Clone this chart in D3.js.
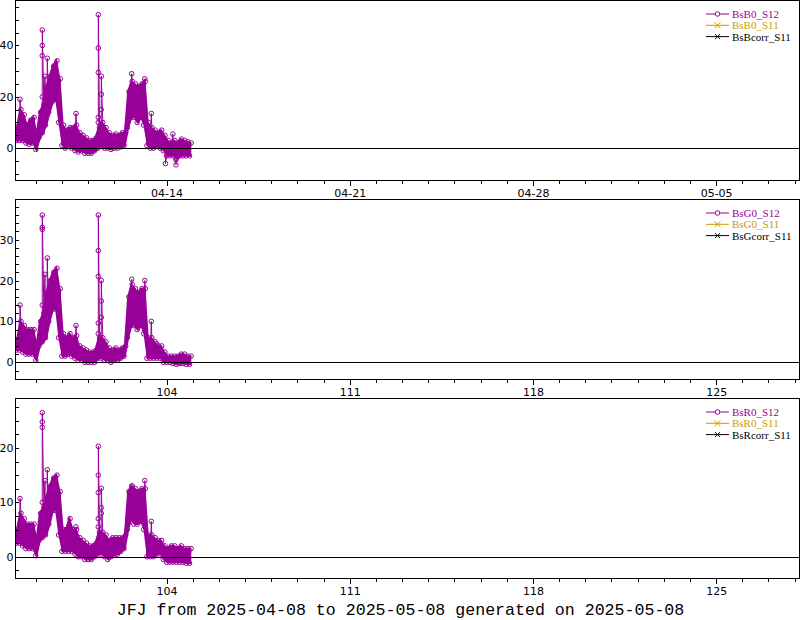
<!DOCTYPE html>
<html><head><meta charset="utf-8">
<script src="https://cdn.jsdelivr.net/npm/d3@7"></script>
<style>
body{margin:0;background:#fff;}
svg{display:block;}
.tick text{font-family:"DejaVu Sans",Verdana,sans-serif;font-size:11px;fill:#000;}
</style></head>
<body><svg id="c" width="800" height="620"></svg>
<script>
// ---- data (hours since 2025-04-08 00:00 UTC) ----
const sampleHours = [6,9,12,15,18,21,24,27,30,33,36,39,42,45,48,51,54,57,60,63,66,69,72,75,78,81,84,87,90,93,96,99,102,105,108,111,114,117,120,123,126,129,132,135,138,141,144,147,150,153,156,159,162,165];

// BsB0_S12 band (low / high envelope)
const b0Low  = [3,3,3,2,1.5,2,-0.5,4,6,9,14,18,19,10,1,0,1,0,-1,-1.5,-1,-2,-2,-2,-1,0,1,0,0,-0.5,0,0,0.5,1,8,12,12,10,12,9,1,0,0,1,0,-1,-3,-3,-3,-4,-3,-3,-3,-3];
const b0High = [8,15,13,9,11,12,5,14,17,24,28,32,34,27,9,7,8,8,9,6,5,4,3,3,4,8,10,8,6,5,5.5,5,6,6,22,26,25,24,25,26,10,8,7,6,7,5,3,2,3,2,3.5,3,2.5,2];
const b0SpikeHours = [9.6,30.0,32.5,34.6,60.9,81.4,84.1,112,124,130,143,149.8,152.6];
const b0SpikeVals  = [[19],[20,36,40,46],[28],[35],[13.5],[10,12,29.5,39,52],[15,21,28],[29],[27],[13.5],[-6],[5.5],[-4.5,-6.5]];

// BsG0_S12
const g0Low  = [3,3,2.5,2,2,2,0.5,4,5,6,10,13,13,6,1.5,1.5,2,1.5,1,0.5,0.5,0,0,0,0,1,1,0.5,0.5,0,0.5,0.5,1,1.5,6,9,9,8,9,7,1,1,1,1,1,0,0,0,-0.3,-0.5,-0.3,-0.3,-0.5,-0.5];
const g0High = [5.5,10,9,8,8,8,4,10,12,17,20,22,23,18,7,6,7,6,6.5,4,3.5,3,2.5,2.5,3,6,6,5,3.5,3,3.5,3,3.5,4,16,19,18,17,18,18,6,6,5,4,4,2.5,1.5,1.5,1.5,1.5,2,2,1.5,1.5];
const g0SpikeHours = [9.6,30.0,32.5,34.6,60.9,81.4,84.1,112,124,130,135];
const g0SpikeVals  = [[14],[14,32.5,33,36],[21.5],[25.5],[9],[7,9.6,21,27.3,36],[11,15,20],[20.3],[20],[10],[4.5]];

// BsR0_S12
const r0Low  = [2.5,2.5,2,1.5,1.5,1.5,0.2,3,3.5,4,6,8.5,8.5,4,1,1,1,1,0.5,0,0,-0.5,-0.5,-0.5,0,0.5,0.5,0,-0.5,0,0.3,0.5,1,1.5,5,7,6,6,6.5,5,0,0,0,0.5,0.5,-0.5,-1,-1,-1,-1,-1,-1,-1.2,-1.2];
const r0High = [5,8,7,6,6,6,3,8,9,11,13,14.5,15,12,5,5,7,5,5,3.5,3,2.5,2,2,2.5,4.5,4.5,4,3,3.5,3.5,3.5,3.5,4,12,13,12.5,12,12.5,12.5,4,4,3.5,3,3,2,1.5,2,2,1.5,2,1.5,1.5,1.5];
const r0SpikeHours = [9.6,30.0,32.5,34.6,60.9,81.4,84.1,112,124,130];
const r0SpikeVals  = [[10.7],[10,23.8,24.8,26.5],[14],[16],[5.5],[5.5,7,11.8,15,20.3],[8,9,12.6],[13],[14],[6.5]];

// S11 and corrected series: no visible data in the reference
const s11Vals = [];
const corrVals = [];

const xTickLabelsDate = ["04-14","04-21","04-28","05-05"];
const xTickLabelsDoy  = ["104","111","118","125"];
const majorTickDays = ["2025-04-14","2025-04-21","2025-04-28","2025-05-05"];
const yLabelsB = [0,20,40];
const yLabelsG = [0,10,20,30];
const yLabelsR = [0,10,20];
const legendB = ["BsB0_S12","BsB0_S11","BsBcorr_S11"];
const legendG = ["BsG0_S12","BsG0_S11","BsGcorr_S11"];
const legendR = ["BsR0_S12","BsR0_S11","BsRcorr_S11"];
const titleText = "JFJ from 2025-04-08 to 2025-05-08 generated on 2025-05-08";

// ---- layout ----
const PURPLE = "#990099", GOLD = "#cc9900", BLACK = "#000";
const svg = d3.select("#c");
const X0 = 15.5, X1 = 799.5;
const t0 = new Date(Date.UTC(2025,3,8,0));
const hToDate = h => new Date(t0.getTime() + h*3600e3);
const x = d3.scaleUtc().domain([new Date(Date.UTC(2025,3,8,5)), new Date(Date.UTC(2025,4,8,4))]).range([15, 799]);

const panels = [
  {top:0.5, bot:180.5, ydom:[-12.6,57.5], ystep:5, ylab:yLabelsB, lo:b0Low, hi:b0High, sh:b0SpikeHours, sv:b0SpikeVals, xl:xTickLabelsDate, leg:legendB},
  {top:199.5, bot:379.5, ydom:[-4.2,39.8], ystep:2, ylab:yLabelsG, lo:g0Low, hi:g0High, sh:g0SpikeHours, sv:g0SpikeVals, xl:xTickLabelsDoy, leg:legendG},
  {top:398.5, bot:578.5, ydom:[-4.0,29.1], ystep:2.5, ylab:yLabelsR, lo:r0Low, hi:r0High, sh:r0SpikeHours, sv:r0SpikeVals, xl:xTickLabelsDoy, leg:legendR}
];

const minorDays = d3.utcDay.range(new Date(Date.UTC(2025,3,9)), new Date(Date.UTC(2025,4,9)));
const majorDates = majorTickDays.map(s => new Date(s + "T00:00:00Z"));

panels.forEach((p, pi) => {
  const g = svg.append("g");
  const y = d3.scaleLinear().domain(p.ydom).range([p.bot, p.top]);
  const clipId = "clip" + pi;
  svg.append("clipPath").attr("id", clipId).append("rect")
    .attr("x", X0).attr("y", p.top).attr("width", X1 - X0).attr("height", p.bot - p.top);

  // build series
  const pts = [];
  sampleHours.forEach((h, i) => {
    pts.push({h: h, v: p.lo[i]});
    pts.push({h: h + 1.5, v: p.hi[i]});
  });
  p.sh.forEach((h, k) => p.sv[k].forEach((v, j) => pts.push({h: h + j*0.01, v: v})));
  pts.sort((a, b) => a.h - b.h);

  const dg = g.append("g").attr("clip-path", `url(#${clipId})`);
  // dense band of the 1-minute data: envelope area
  const band = sampleHours.map((h, i) => ({h: h + 0.75, lo: p.lo[i], hi: p.hi[i]}));
  const area = d3.area().x(d => x(hToDate(d.h))).y0(d => y(d.lo)).y1(d => y(d.hi));
  dg.append("path").datum(band).attr("d", area)
    .attr("fill", PURPLE).attr("stroke", PURPLE).attr("stroke-width", 2);
  const line = d3.line().x(d => x(hToDate(d.h))).y(d => y(d.v));
  dg.append("path").datum(pts).attr("d", line)
    .attr("fill", "none").attr("stroke", PURPLE).attr("stroke-width", 1);
  dg.selectAll("circle").data(pts).join("circle")
    .attr("cx", d => x(hToDate(d.h))).attr("cy", d => y(d.v)).attr("r", 2.3)
    .attr("fill", "none").attr("stroke", PURPLE).attr("stroke-width", 1);
  // (empty) S11 and corr series
  dg.append("path").datum(s11Vals).attr("d", line).attr("fill","none").attr("stroke", GOLD);
  dg.append("path").datum(corrVals).attr("d", line).attr("fill","none").attr("stroke", BLACK);

  // zero line
  g.append("line").attr("x1", X0).attr("x2", X1)
    .attr("y1", Math.round(y(0)) + 0.5).attr("y2", Math.round(y(0)) + 0.5)
    .attr("stroke", "#000").attr("stroke-width", 1);

  // frame
  g.append("rect").attr("x", X0).attr("y", p.top).attr("width", X1 - X0).attr("height", p.bot - p.top)
    .attr("fill", "none").attr("stroke", "#000").attr("stroke-width", 1);

  // y minor ticks (inside)
  const yTicks = d3.range(Math.ceil(p.ydom[0]/p.ystep)*p.ystep, p.ydom[1], p.ystep);
  const yAx = g.append("g").attr("transform", `translate(${X0},0)`)
    .call(d3.axisRight(y).tickValues(yTicks).tickSize(3).tickFormat(""));
  yAx.select(".domain").remove();
  // y labels
  const yLab = g.append("g").attr("transform", `translate(${X0 - 2},0)`)
    .call(d3.axisLeft(y).tickValues(p.ylab).tickSize(0).tickPadding(0).tickFormat(d3.format("d")));
  yLab.select(".domain").remove();

  // x ticks
  const xMin = g.append("g").attr("transform", `translate(0,${p.bot})`)
    .call(d3.axisBottom(x).tickValues(minorDays).tickSize(3).tickFormat(""));
  xMin.select(".domain").remove();
  const xMaj = g.append("g").attr("transform", `translate(0,${p.bot})`)
    .call(d3.axisBottom(x).tickValues(majorDates).tickSize(5).tickPadding(3.5).tickFormat((d, i) => p.xl[i]));
  xMaj.select(".domain").remove();
  g.selectAll(".tick line").attr("shape-rendering", "crispEdges");

  // legend
  const colors = [PURPLE, GOLD, BLACK];
  const lg = g.append("g");
  p.leg.forEach((name, i) => {
    const cy = p.top + 13.5 + i * 11.3;
    lg.append("line").attr("x1", 706).attr("x2", 729).attr("y1", cy).attr("y2", cy)
      .attr("stroke", colors[i]).attr("stroke-width", 1);
    if (i === 0) {
      lg.append("circle").attr("cx", 717.5).attr("cy", cy).attr("r", 2.3)
        .attr("fill", "#fff").attr("stroke", colors[i]);
    } else {
      const s = i === 1 ? 3 : 2.5;
      lg.append("path").attr("d", `M${717.5-s},${cy-s}L${717.5+s},${cy+s}M${717.5-s},${cy+s}L${717.5+s},${cy-s}`)
        .attr("stroke", colors[i]).attr("fill", "none");
    }
    lg.append("text").attr("x", 732).attr("y", cy + 4)
      .attr("font-family", "'Liberation Serif','Times New Roman',serif").attr("font-size", 11)
      .attr("fill", colors[i]).text(name);
  });
});

svg.append("text").attr("x", 400.5).attr("y", 615)
  .attr("text-anchor", "middle")
  .attr("font-family", "'Courier New','Liberation Mono',monospace").attr("font-size", 16.6)
  .attr("fill", "#000").text(titleText);
</script>
</body></html>
